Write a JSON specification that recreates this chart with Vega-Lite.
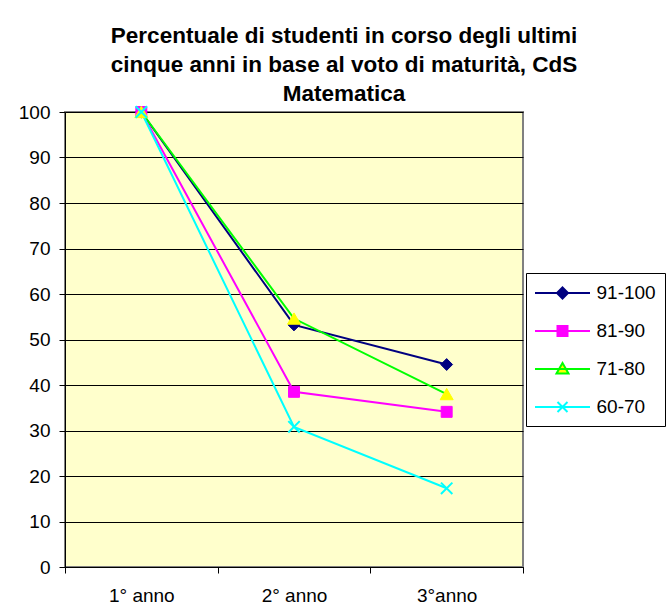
{
  "$schema": "https://vega.github.io/schema/vega-lite/v6.json",
  "width": 458,
  "height": 455,
  "autosize": {"type": "none"},
  "padding": {"left": 65, "top": 112, "right": 147, "bottom": 48},
  "background": "white",
  "config": {
    "font": "Liberation Sans",
    "view": {"fill": "#FFFFCC", "stroke": "#808080", "strokeWidth": 2},
    "axis": {"labelFont": "Liberation Sans", "labelColor": "black", "labelFontSize": 19, "domainColor": "black", "tickColor": "black", "titleColor": "black"}
  },
  "title": {
    "text": ["Percentuale di studenti in corso degli ultimi", "cinque anni in base al voto di maturità, CdS", "Matematica"],
    "fontSize": 22.5,
    "fontWeight": "bold",
    "font": "Liberation Sans",
    "color": "black",
    "lineHeight": 29,
    "dx": 50,
    "offset": -3,
    "anchor": "middle"
  },
  "data": {
    "values": [
      {"anno": "1° anno", "serie": "91-100", "val": 100},
      {"anno": "2° anno", "serie": "91-100", "val": 53.2},
      {"anno": "3°anno", "serie": "91-100", "val": 44.5},
      {"anno": "1° anno", "serie": "81-90", "val": 100},
      {"anno": "2° anno", "serie": "81-90", "val": 38.5},
      {"anno": "3°anno", "serie": "81-90", "val": 34.1},
      {"anno": "1° anno", "serie": "71-80", "val": 100},
      {"anno": "2° anno", "serie": "71-80", "val": 54.6},
      {"anno": "3°anno", "serie": "71-80", "val": 38.0},
      {"anno": "1° anno", "serie": "60-70", "val": 100},
      {"anno": "2° anno", "serie": "60-70", "val": 30.8},
      {"anno": "3°anno", "serie": "60-70", "val": 17.3}
    ]
  },
  "encoding": {
    "x": {
      "field": "anno",
      "type": "nominal",
      "sort": ["1° anno", "2° anno", "3°anno"],
      "bandPosition": 0.5,
      "scale": {"type": "band", "paddingInner": 0, "paddingOuter": 0},
      "axis": {"title": null, "labelAngle": 0, "tickBand": "extent", "tickSize": 6, "labelPadding": 13, "grid": false}
    },
    "y": {
      "field": "val",
      "type": "quantitative",
      "scale": {"domain": [0, 100], "nice": false},
      "axis": {"title": null, "values": [0, 10, 20, 30, 40, 50, 60, 70, 80, 90, 100], "grid": true, "gridColor": "black", "gridOpacity": 1, "gridWidth": 1, "tickSize": 6, "labelPadding": 9}
    }
  },
  "layer": [
    {
      "mark": {"type": "line", "strokeWidth": 2},
      "encoding": {
        "color": {
          "field": "serie",
          "type": "nominal",
          "scale": {"domain": ["91-100", "81-90", "71-80", "60-70"], "range": ["#000080", "#FF00FF", "#00FF00", "#00FFFF"]},
          "legend": {
            "title": null,
            "orient": "none",
            "legendX": 461,
            "legendY": 161,
            "strokeColor": "black",
            "fillColor": "white",
            "padding": 9,
            "labelFontSize": 19,
            "labelColor": "black",
            "labelFont": "Liberation Sans",
            "symbolSize": 400,
            "symbolStrokeWidth": 2,
            "symbolOffset": 16.5,
            "labelOffset": 23,
            "rowPadding": 17,
            "encode": {
              "symbols": {
                "update": {
                  "shape": {"signal": "datum.value === '91-100' ? 'M-2.75,0L2.75,0M0,-0.55L0.55,0L0,0.55L-0.55,0Z' : datum.value === '81-90' ? 'M-2.75,0L2.75,0M-0.5,-0.5L0.5,-0.5L0.5,0.5L-0.5,0.5Z' : datum.value === '71-80' ? 'M-2.75,0L2.75,0M0,-0.6L0.6,0.45L-0.6,0.45Z' : 'M-2.75,0L2.75,0M-0.5,-0.5L0.5,0.5M-0.5,0.5L0.5,-0.5'"},
                  "fill": {"signal": "datum.value === '91-100' ? '#000080' : datum.value === '81-90' ? '#FF00FF' : datum.value === '71-80' ? '#FFFF00' : '#00FFFF'"},
                  "fillOpacity": {"value": 1},
                  "opacity": {"value": 1}
                }
              }
            }
          }
        }
      }
    },
    {
      "transform": [{"filter": "datum.serie === '91-100'"}],
      "mark": {"type": "point", "shape": "diamond", "filled": true, "size": 140, "fill": "#000080", "stroke": "#000080", "strokeWidth": 1, "opacity": 1}
    },
    {
      "transform": [{"filter": "datum.serie === '81-90'"}],
      "mark": {"type": "point", "shape": "square", "filled": true, "size": 120, "fill": "#FF00FF", "stroke": "#FF00FF", "strokeWidth": 1, "opacity": 1}
    },
    {
      "transform": [{"filter": "datum.serie === '71-80'"}],
      "mark": {"type": "point", "shape": "triangle-up", "filled": true, "size": 170, "fill": "#FFFF00", "stroke": "#FFFF00", "strokeWidth": 1, "opacity": 1}
    },
    {
      "transform": [{"filter": "datum.serie === '60-70'"}],
      "mark": {"type": "point", "shape": "M-1,-1L1,1M-1,1L1,-1", "filled": false, "size": 130, "stroke": "#00FFFF", "strokeWidth": 2, "opacity": 1}
    }
  ]
}
